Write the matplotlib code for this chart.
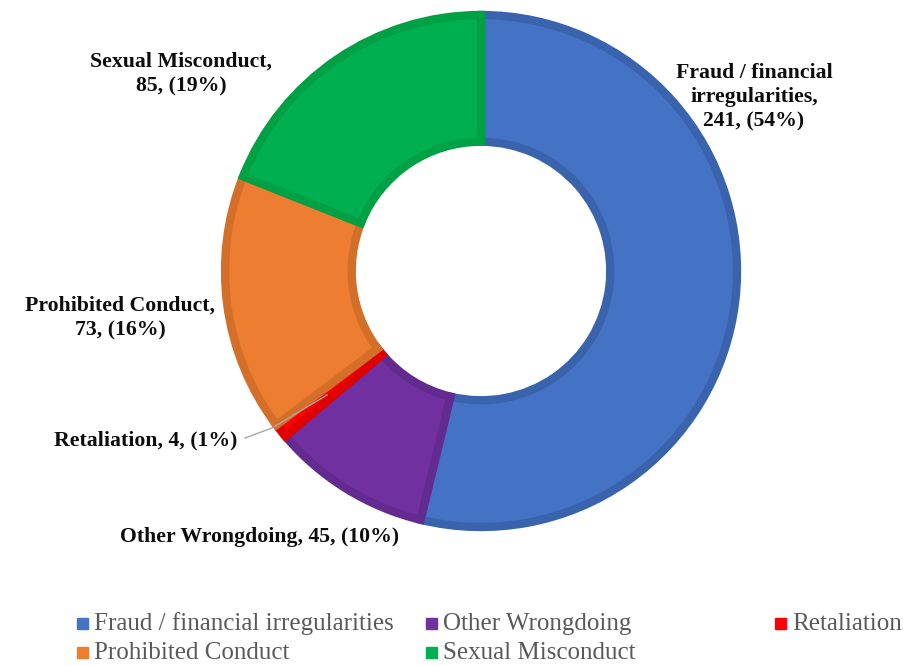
import numpy as np
import matplotlib.pyplot as plt
from matplotlib.patches import Rectangle

# Data
categories = ["Fraud / financial irregularities", "Other Wrongdoing", "Retaliation",
              "Prohibited Conduct", "Sexual Misconduct"]
counts = [241, 45, 4, 73, 85]
label_texts = [
    "Fraud / financial\nirregularities,\n241, (54%)",
    "Other Wrongdoing, 45, (10%)",
    "Retaliation, 4, (1%)",
    "Prohibited Conduct,\n73, (16%)",
    "Sexual Misconduct,\n85, (19%)",
]

colors = ["#4472C4", "#7030A0", "#FF0000", "#ED7D31", "#00B050"]
edge_colors = ["#3A63AE", "#632A90", "#E00000", "#D46F2A", "#00A045"]

# label anchor positions in pixel space (x from left, y from top)
label_pos = [(754, 97), (260, 537), (146, 440), (120, 318), (181, 74)]

plt.rcParams["font.family"] = ["Liberation Serif", "DejaVu Serif"]

W, H = 904, 666
fig = plt.figure(figsize=(W / 100, H / 100), dpi=100)
ax = fig.add_axes([0, 0, 1, 1])

cx, cy, R = 481, 271, 256
wedges, _ = ax.pie(
    counts,
    colors=colors,
    startangle=90,
    counterclock=False,
    center=(cx, -cy),
    radius=R,
    wedgeprops=dict(width=R * 0.495, linewidth=6),
)
ax.set_xlim(0, W)
ax.set_ylim(-H, 0)
ax.set_aspect("equal")
ax.axis("off")
for w, ec in zip(wedges, edge_colors):
    w.set_edgecolor(ec)
    w.set_clip_path(w)

for txt, (x, y) in zip(label_texts, label_pos):
    ax.text(x, -y, txt, ha="center", va="center", fontsize=15.7, fontweight="bold",
            color="#0d0d0d", linespacing=1.3, multialignment="center")

# leader line for Retaliation
ax.plot([245, 272, 327], [-438, -428, -395], color="#a6a6a6", lw=1)

# legend, laid out like Excel (equal column widths)
leg_x = [77, 426, 775]
leg_y = [624, 653]
for i, (name, c) in enumerate(zip(categories, colors)):
    row, col = divmod(i, 3)
    x, y = leg_x[col], leg_y[row]
    ax.add_patch(Rectangle((x, -y - 5), 11, 11, color=c, clip_on=False))
    ax.text(x + 17, -y, name, ha="left", va="center", fontsize=18, color="#595959")

fig.savefig("out.png", dpi=100)
